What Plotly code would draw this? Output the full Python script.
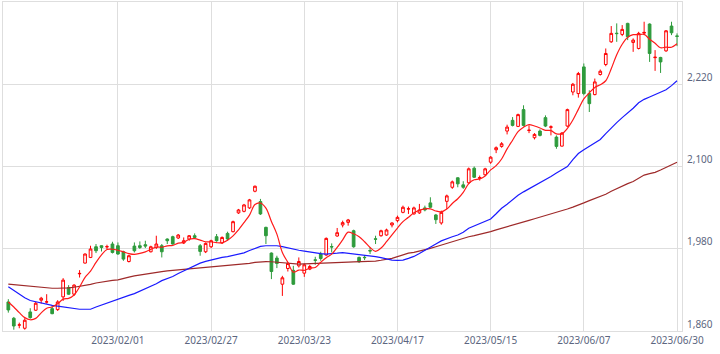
import pandas as pd
import plotly.graph_objects as go

# ---- data ----
holidays = ["2023-01-02", "2023-01-03", "2023-01-09", "2023-02-23", "2023-03-21",
            "2023-05-03", "2023-05-04", "2023-05-05"]
dates = [d.strftime("%Y/%m/%d") for d in
         pd.bdate_range("2022-12-30", "2023-06-30", freq="C", holidays=holidays)]

opens = [1902.4, 1878.6, 1868.6, 1864.0, 1887.8, 1890.3, 1904.9, 1902.2, 1892.6, 1891.2,
         1909.8, 1923.4, 1913.7, 1943.4, 1959.1, 1967.3, 1982.9, 1984.4, 1982.7, 1986.9,
         1984.4, 1975.6, 1961.4, 1983.9, 1984.4, 1985.9, 1975.6, 1981.9, 1984.4, 1994.2,
         1997.6, 1995.7, 1988.4, 1994.2, 1999.0, 1984.4, 1975.6, 1982.9, 1997.6, 1988.4,
         2002.4, 2004.9, 2032.3, 2034.6, 2039.6, 2063.9, 2048.8, 2011.2, 1973.7, 1966.4,
         1928.3, 1951.2, 1948.5, 1955.1, 1944.4, 1950.3, 1963.8, 1972.3, 1970.8, 1983.2,
         1998.6, 2014.7, 2018.5, 2006.3, 1967.3, 1967.6, 1977.4, 1994.5, 1999.0, 2000.0,
         2014.7, 2021.0, 2033.1, 2037.9, 2030.8, 2032.3, 2039.6, 2046.9, 2029.3, 2017.6,
         2049.2, 2069.7, 2083.5, 2073.2, 2076.2, 2097.5, 2082.4, 2087.9, 2106.3, 2124.4,
         2129.3, 2151.7, 2167.3, 2158.5, 2183.0, 2152.5, 2142.0, 2151.7, 2171.3, 2157.2,
         2142.9, 2129.7, 2159.0, 2208.7, 2206.4, 2245.3, 2206.4, 2204.9, 2234.2, 2248.8,
         2281.9, 2294.5, 2292.7, 2308.8, 2281.0, 2272.2, 2294.6, 2307.8, 2258.8, 2259.1,
         2268.7, 2304.9, 2290.5]
highs = [1906.4, 1880.5, 1872.2, 1878.6, 1893.2, 1902.4, 1909.8, 1913.7, 1896.6, 1904.9,
         1937.1, 1926.9, 1928.3, 1948.8, 1973.1, 1984.4, 1986.9, 1984.8, 1985.9, 1990.2,
         1989.2, 1977.1, 1971.2, 1989.2, 1990.7, 1991.7, 1984.4, 1999.0, 1986.9, 1995.1,
         1999.0, 2001.5, 1996.5, 2000.0, 2002.4, 1986.9, 1989.2, 1993.2, 2001.5, 1998.0,
         2004.9, 2021.0, 2038.1, 2045.4, 2052.7, 2072.2, 2052.7, 2012.2, 1974.6, 1969.8,
         1940.5, 1960.0, 1955.1, 1967.3, 1958.5, 1956.6, 1968.3, 1975.6, 1996.5, 1987.8,
         2010.3, 2021.0, 2023.5, 2007.8, 1968.7, 1970.8, 1981.9, 1999.0, 2007.8, 2009.3,
         2018.5, 2028.3, 2042.9, 2041.5, 2041.5, 2045.4, 2042.9, 2055.1, 2030.8, 2035.6,
         2059.0, 2079.5, 2084.3, 2078.5, 2098.5, 2100.0, 2086.8, 2098.1, 2115.1, 2129.3,
         2135.6, 2161.0, 2172.1, 2177.1, 2189.3, 2160.0, 2148.7, 2154.2, 2174.6, 2160.0,
         2145.4, 2150.2, 2184.4, 2221.9, 2238.0, 2250.3, 2211.2, 2228.3, 2241.5, 2272.2,
         2304.9, 2308.8, 2306.3, 2309.7, 2286.9, 2296.5, 2311.2, 2308.8, 2269.8, 2260.0,
         2299.0, 2311.2, 2294.2]
lows = [1886.8, 1861.9, 1864.0, 1861.9, 1878.0, 1889.3, 1900.0, 1900.0, 1884.4, 1889.3,
        1903.9, 1912.7, 1911.2, 1938.0, 1958.5, 1966.4, 1973.7, 1976.0, 1979.6, 1973.1,
        1971.2, 1962.4, 1960.0, 1974.6, 1979.6, 1981.0, 1974.6, 1979.6, 1967.3, 1986.9,
        1985.9, 1994.2, 1986.9, 1991.7, 1994.2, 1969.8, 1973.7, 1981.0, 1990.2, 1986.9,
        1991.7, 2003.9, 2030.8, 2033.1, 2038.1, 2062.4, 2029.3, 1986.9, 1935.7, 1951.8,
        1911.2, 1946.8, 1927.3, 1952.6, 1939.0, 1948.8, 1956.6, 1962.4, 1969.8, 1974.6,
        1997.6, 2011.2, 2013.7, 1981.5, 1959.5, 1963.5, 1972.3, 1986.9, 1997.6, 1999.0,
        2011.2, 2018.5, 2031.7, 2030.8, 2029.8, 2030.8, 2034.6, 2039.6, 2016.2, 2015.1,
        2038.1, 2067.4, 2069.7, 2067.4, 2075.1, 2083.2, 2079.5, 2086.8, 2103.9, 2119.5,
        2127.4, 2146.8, 2158.5, 2157.5, 2158.5, 2148.7, 2139.5, 2143.9, 2157.5, 2145.4,
        2125.9, 2129.3, 2157.8, 2203.9, 2200.5, 2203.9, 2179.5, 2203.9, 2232.7, 2246.3,
        2280.4, 2281.9, 2290.2, 2284.4, 2267.3, 2270.8, 2291.7, 2252.6, 2239.5, 2236.5,
        2267.3, 2291.7, 2275.6]
closes = [1890.7, 1867.3, 1868.9, 1875.7, 1879.5, 1900.5, 1907.8, 1902.6, 1885.3, 1902.4,
          1934.2, 1913.7, 1926.9, 1944.0, 1972.3, 1979.6, 1977.1, 1981.9, 1983.1, 1974.6,
          1972.3, 1964.9, 1969.8, 1977.1, 1981.9, 1983.9, 1982.9, 1986.9, 1975.6, 1991.7,
          1986.9, 2000.0, 1991.7, 1999.0, 1996.5, 1976.1, 1987.8, 1991.7, 1991.7, 1996.5,
          1994.2, 2019.5, 2036.6, 2043.9, 2051.3, 2071.2, 2030.8, 1999.0, 1946.8, 1958.5,
          1937.6, 1958.5, 1928.3, 1961.4, 1956.6, 1954.1, 1963.2, 1965.8, 1995.1, 1982.6,
          2003.4, 2018.1, 2022.0, 1982.9, 1961.0, 1967.0, 1976.8, 1993.9, 2006.3, 2007.4,
          2017.6, 2025.8, 2040.5, 2038.3, 2039.6, 2036.6, 2036.6, 2040.5, 2022.4, 2033.1,
          2057.1, 2077.6, 2074.7, 2069.7, 2096.6, 2084.3, 2083.9, 2096.6, 2113.6, 2127.4,
          2133.2, 2157.5, 2160.0, 2175.7, 2160.0, 2153.0, 2146.8, 2145.4, 2159.0, 2157.8,
          2129.3, 2148.7, 2183.0, 2220.0, 2235.6, 2206.4, 2191.7, 2223.4, 2239.0, 2264.9,
          2294.2, 2293.9, 2300.0, 2289.2, 2284.4, 2294.2, 2295.6, 2264.9, 2259.4, 2252.6,
          2298.0, 2295.1, 2289.9]

ma_short = [1902.4, 1895.0, 1886.8, 1879.5, 1876.4, 1878.4, 1886.5, 1893.2, 1895.1, 1899.7,
            1906.5, 1907.6, 1912.5, 1924.2, 1938.2, 1947.3, 1960.0, 1971.0, 1978.8, 1979.3,
            1977.8, 1975.4, 1972.9, 1971.7, 1973.2, 1975.5, 1979.1, 1982.5, 1982.2, 1984.2,
            1984.8, 1988.2, 1989.2, 1993.9, 1994.8, 1992.7, 1990.2, 1990.2, 1988.8, 1988.8,
            1992.4, 1998.7, 2007.7, 2018.1, 2029.1, 2044.5, 2046.8, 2039.2, 2019.8, 2001.3,
            1974.5, 1960.1, 1945.9, 1948.9, 1948.5, 1951.8, 1952.7, 1960.2, 1967.0, 1972.2,
            1982.0, 1993.0, 2004.2, 2001.8, 1997.5, 1990.2, 1981.9, 1976.3, 1981.0, 1990.3,
            2000.4, 2010.2, 2019.5, 2025.9, 2032.4, 2036.2, 2038.3, 2038.3, 2035.1, 2033.8,
            2037.9, 2046.1, 2053.0, 2062.4, 2075.1, 2080.6, 2081.8, 2086.2, 2095.0, 2101.2,
            2110.9, 2125.7, 2138.3, 2150.8, 2157.3, 2161.2, 2159.1, 2156.2, 2152.8, 2152.4,
            2147.7, 2148.0, 2155.6, 2167.8, 2183.3, 2198.7, 2207.3, 2215.4, 2219.2, 2225.1,
            2242.6, 2263.1, 2278.4, 2288.4, 2292.3, 2292.3, 2292.7, 2285.7, 2279.7, 2273.3,
            2274.1, 2274.0, 2279.0]
ma_mid = [1924.4, 1919.0, 1913.5, 1908.5, 1904.5, 1902.5, 1900.5, 1899.0, 1897.5, 1896.3,
          1895.2, 1893.5, 1892.0, 1891.7, 1891.7, 1891.7, 1895.0, 1898.0, 1901.0, 1904.0,
          1907.0, 1909.5, 1912.0, 1914.5, 1918.0, 1921.5, 1925.0, 1929.0, 1933.5, 1936.5,
          1939.5, 1944.0, 1948.0, 1952.0, 1956.0, 1959.0, 1961.5, 1963.8, 1966.0, 1967.5,
          1968.5, 1970.3, 1971.8, 1974.0, 1977.5, 1980.5, 1983.5, 1984.4, 1984.4, 1984.4,
          1983.0, 1981.0, 1979.0, 1977.8, 1976.5, 1975.0, 1974.0, 1973.0, 1972.3, 1972.5,
          1973.5, 1974.3, 1973.5, 1972.5, 1971.5, 1970.0, 1969.5, 1968.5, 1967.0, 1965.3,
          1963.5, 1963.0, 1963.5, 1966.0, 1968.8, 1973.0, 1978.0, 1982.9, 1987.0, 1991.5,
          1995.0, 1997.5, 2000.0, 2004.0, 2010.0, 2013.5, 2016.5, 2020.0, 2023.4, 2031.0,
          2039.0, 2045.0, 2052.0, 2058.0, 2063.0, 2067.5, 2072.0, 2076.0, 2080.0, 2085.5,
          2090.5, 2095.5, 2100.0, 2110.0, 2119.0, 2124.5, 2129.5, 2134.5, 2139.5, 2148.0,
          2156.5, 2164.0, 2171.3, 2178.0, 2185.0, 2193.0, 2198.0, 2201.5, 2205.0, 2207.8,
          2212.0, 2218.0, 2225.0]
ma_long = [1928.3, 1927.5, 1926.5, 1925.5, 1924.6, 1924.0, 1923.3, 1922.6, 1922.4, 1922.4,
           1922.4, 1923.0, 1923.8, 1925.0, 1926.5, 1928.0, 1930.0, 1931.5, 1932.8, 1933.8,
           1934.5, 1936.0, 1938.5, 1940.5, 1941.5, 1942.5, 1943.5, 1945.0, 1946.5, 1947.8,
           1948.5, 1949.3, 1950.0, 1951.0, 1952.0, 1952.6, 1952.9, 1953.3, 1953.8, 1954.8,
           1955.8, 1956.4, 1956.8, 1957.8, 1958.8, 1960.0, 1961.0, 1961.2, 1961.0, 1960.3,
           1959.5, 1958.8, 1958.0, 1957.6, 1957.8, 1958.0, 1958.2, 1958.4, 1958.6, 1959.0,
           1959.5, 1960.0, 1960.5, 1960.8, 1961.0, 1961.2, 1961.4, 1962.0, 1963.2, 1964.5,
           1966.0, 1968.5, 1971.0, 1973.5, 1974.6, 1976.3, 1978.3, 1980.5, 1982.9, 1985.5,
           1988.0, 1990.2, 1992.2, 1995.0, 1997.5, 1999.2, 2000.8, 2002.5, 2005.0, 2007.5,
           2010.0, 2012.5, 2014.8, 2017.0, 2019.5, 2021.5, 2023.8, 2026.0, 2028.2, 2030.5,
           2033.0, 2035.5, 2038.0, 2040.8, 2043.5, 2046.9, 2050.2, 2053.0, 2056.0, 2059.5,
           2064.0, 2068.0, 2071.5, 2075.0, 2078.0, 2082.5, 2087.5, 2089.5, 2091.5, 2095.0,
           2099.0, 2102.5, 2106.3]

x_ticks = ["2023/02/01", "2023/02/27", "2023/03/23", "2023/04/17",
           "2023/05/15", "2023/06/07", "2023/06/30"]
y_ticks = [1860, 1980, 2100, 2220]
y_tick_text = ["1,860", "1,980", "2,100", "2,220"]

# ---- figure ----
UP = "#ff0000"
DOWN = "#2e9b3c"
GRID = "#dedede"

fig = go.Figure()
fig.add_trace(go.Candlestick(
    x=dates, open=opens, high=highs, low=lows, close=closes,
    increasing=dict(line=dict(color=UP, width=1), fillcolor="#ffffff"),
    decreasing=dict(line=dict(color=DOWN, width=1), fillcolor=DOWN),
    whiskerwidth=0, hoverinfo="skip", showlegend=False,
))
fig.add_trace(go.Scatter(x=dates, y=ma_long, mode="lines",
                         line=dict(color="#9e2a2a", width=1.2),
                         hoverinfo="skip", showlegend=False))
fig.add_trace(go.Scatter(x=dates, y=ma_mid, mode="lines",
                         line=dict(color="#1a1aff", width=1.2),
                         hoverinfo="skip", showlegend=False))
fig.add_trace(go.Scatter(x=dates, y=ma_short, mode="lines",
                         line=dict(color="#ff1a1a", width=1.2, shape="spline"),
                         hoverinfo="skip", showlegend=False))

fig.update_layout(
    width=720, height=354,
    margin=dict(l=3, r=38, t=2, b=23),
    paper_bgcolor="#ffffff", plot_bgcolor="#ffffff",
    font=dict(family="Noto Sans", size=10, color="#5c6680"),
    showlegend=False, hovermode=False,
)
fig.update_xaxes(
    type="category", range=[-0.97, len(dates) - 0.09],
    tickmode="array", tickvals=x_ticks, ticktext=x_ticks,
    showgrid=True, gridcolor=GRID, gridwidth=1,
    showline=True, linecolor=GRID, linewidth=1, mirror=True,
    ticks="", rangeslider=dict(visible=False), zeroline=False,
)
fig.update_yaxes(
    range=[1860, 2340], side="right",
    tickmode="array", tickvals=y_ticks, ticktext=y_tick_text,
    showgrid=True, gridcolor=GRID, gridwidth=1,
    showline=True, linecolor=GRID, linewidth=1, mirror=True,
    ticks="", zeroline=False, ticklabelshift=-7, ticklabelstandoff=2,
)

fig.write_html("out.html")
